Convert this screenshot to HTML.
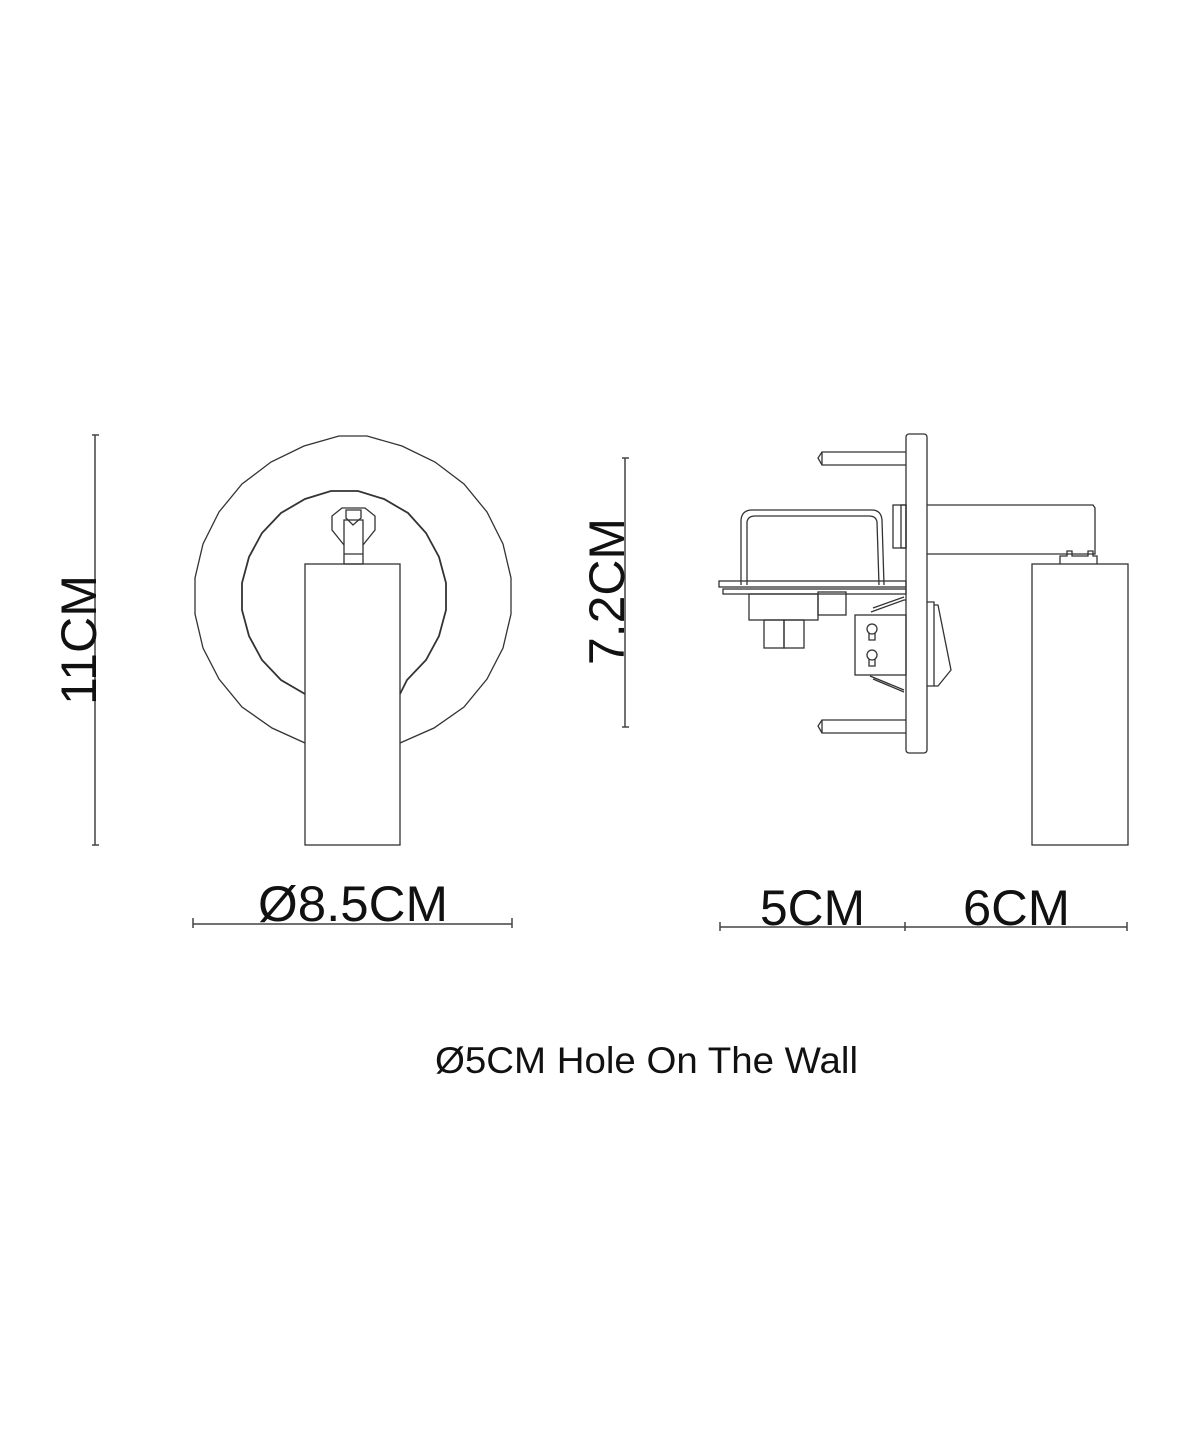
<!DOCTYPE html>
<html><head><meta charset="utf-8"><style>html,body{margin:0;padding:0;background:#fff}svg{display:block}</style></head>
<body>
<svg width="1200" height="1447" viewBox="0 0 1200 1447" xmlns="http://www.w3.org/2000/svg" font-family="Liberation Sans, Arial, sans-serif">
<rect width="1200" height="1447" fill="#fff"/>
<g fill="none" stroke="#333" stroke-width="1.3">
<!-- left view -->
<path d="M305 743 L272 728 L242 707 L219 679 L203 648 L195 614 L195 578 L203 544 L219 512 L242 484 L271 462 L304 446 L339 436 L367 436 L402 446 L435 462 L464 484 L487 512 L503 544 L511 578 L511 614 L503 648 L487 679 L464 707 L434 728 L400 743"/>
<path d="M305 694 L281 680 L262 660 L249 636 L242 610 L242 583 L249 557 L262 533 L281 513 L305 499 L331 491 L358 491 L384 499 L408 513 L426 533 L439 557 L446 583 L446 610 L439 636 L426 660 L407 680 L400 694" stroke-width="1.8"/>
<rect x="305" y="564" width="95" height="281"/>
<rect x="344" y="520" width="19" height="44"/>
<line x1="344" y1="554" x2="363" y2="554"/>
<path d="M344 545 L332 530 L332 516 L342 508 L365 508 L375 516 L375 530 L363 545"/>
<path d="M346 510 L361 510 L361 518 L353 525 L346 518 Z"/>
<!-- right view -->
<rect x="906" y="434" width="21" height="319" rx="3"/>
<path d="M906 452 L822 452 L818 458 L822 465 L906 465"/>
<line x1="822" y1="452" x2="822" y2="465"/>
<path d="M906 720 L822 720 L818 726 L822 733 L906 733"/>
<line x1="822" y1="720" x2="822" y2="733"/>
<path d="M927 505 L1093 505 L1095 508 L1095 554 L927 554"/>
<rect x="1032" y="564" width="96" height="281"/>
<path d="M1060 564 L1060 556 L1067 556 L1067 551 L1072 551 L1072 556 L1088 556 L1088 551 L1093 551 L1093 556 L1097 556 L1097 564"/>
<path d="M741 585 L741 520 Q742 510 752 510 L872 510 Q881 510 882 520 L884 585"/>
<path d="M747 585 L747 522 Q748 516 755 516 L869 516 Q876 516 877 522 L879 585"/>
<rect x="719" y="581" width="187" height="6"/>
<rect x="723" y="589" width="183" height="5"/>
<rect x="749" y="594" width="69" height="26"/>
<rect x="818" y="592" width="28" height="23"/>
<rect x="764" y="620" width="20" height="28"/>
<rect x="784" y="620" width="20" height="28"/>
<rect x="893" y="505" width="13" height="43"/>
<rect x="901" y="505" width="5" height="43"/>
<rect x="855" y="615" width="51" height="60"/>
<path d="M871 612 L904 600 L906 600 M873 608 L904 597"/>
<path d="M870 676 L904 690 M873 679 L904 692"/>
<path d="M927 602 L934 602 L934 686 L927 686"/>
<path d="M934 605 L938 605 L951 670 L938 686 L934 686"/>
<circle cx="872" cy="629" r="5"/><path d="M869 633 L869 640 L875 640 L875 633"/>
<circle cx="872" cy="655" r="5"/><path d="M869 659 L869 666 L875 666 L875 659"/>
</g>
<!-- dimension lines -->
<g stroke="#444" stroke-width="1.5" fill="none">
<line x1="95" y1="435" x2="95" y2="845"/><line x1="92" y1="435" x2="99" y2="435"/><line x1="92" y1="845" x2="99" y2="845"/>
<line x1="625" y1="458" x2="625" y2="727"/><line x1="622" y1="458" x2="629" y2="458"/><line x1="622" y1="727" x2="629" y2="727"/>
<line x1="193" y1="924" x2="512" y2="924"/><line x1="193" y1="918" x2="193" y2="928"/><line x1="512" y1="918" x2="512" y2="928"/>
<line x1="720" y1="927" x2="1127" y2="927"/><line x1="720" y1="922" x2="720" y2="931"/><line x1="905" y1="922" x2="905" y2="931"/><line x1="1127" y1="922" x2="1127" y2="931"/>
</g>
<g fill="#111" font-size="50">
<text x="258" y="921" textLength="190" lengthAdjust="spacingAndGlyphs">Ø8.5CM</text>
<text x="760" y="925" textLength="105" lengthAdjust="spacingAndGlyphs">5CM</text>
<text x="963" y="925" textLength="107" lengthAdjust="spacingAndGlyphs">6CM</text>
<text transform="translate(96,705) rotate(-90)" textLength="130" lengthAdjust="spacingAndGlyphs">11CM</text>
<text transform="translate(624,665) rotate(-90)" textLength="147" lengthAdjust="spacingAndGlyphs">7.2CM</text>
</g>
<text x="435" y="1073" font-size="37" fill="#111" textLength="423" lengthAdjust="spacingAndGlyphs">Ø5CM Hole On The Wall</text>
</svg>
</body></html>
